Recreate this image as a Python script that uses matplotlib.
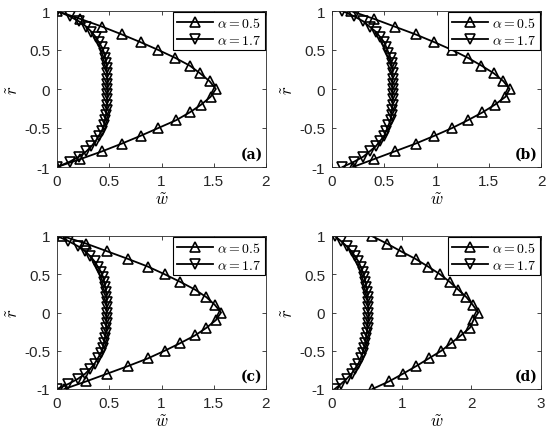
import numpy as np
import matplotlib
matplotlib.use("Agg")
import matplotlib.pyplot as plt

plt.rcParams['mathtext.fontset'] = 'cm'
plt.rcParams['font.family'] = ['Liberation Sans', 'DejaVu Sans']

# radial positions of the markers
r_a05 = [1.0, 0.9, 0.8, 0.7, 0.6, 0.5, 0.4, 0.3, 0.2, 0.1, 0.0,
         -0.1, -0.2, -0.3, -0.4, -0.5, -0.6, -0.7, -0.8, -0.9, -1.0]
r_a17 = [1.0, 0.933, 0.867, 0.8, 0.733, 0.667, 0.6, 0.533, 0.467, 0.4, 0.333,
         0.267, 0.2, 0.133, 0.067, 0.0, -0.067, -0.133, -0.2, -0.267, -0.333,
         -0.4, -0.467, -0.533, -0.6, -0.667, -0.733, -0.8, -0.867, -0.933, -1.0]

# (a)
wa_05 = [0.0, 0.22, 0.43, 0.62, 0.80, 0.97, 1.13, 1.27, 1.37, 1.46, 1.52,
         1.47, 1.38, 1.27, 1.14, 0.97, 0.80, 0.62, 0.43, 0.22, 0.0]
wa_17 = [0.0, 0.12, 0.21, 0.28, 0.33, 0.37, 0.40, 0.43, 0.45, 0.46, 0.47,
         0.475, 0.48, 0.48, 0.48, 0.48, 0.48, 0.48, 0.48, 0.475, 0.47,
         0.46, 0.45, 0.43, 0.40, 0.37, 0.33, 0.28, 0.21, 0.12, 0.0]
# (b)
wb_05 = [0.18, 0.40, 0.60, 0.80, 0.98, 1.15, 1.30, 1.43, 1.55, 1.64, 1.70,
         1.66, 1.56, 1.44, 1.30, 1.15, 0.98, 0.80, 0.60, 0.40, 0.20]
wb_17 = [0.10, 0.21, 0.30, 0.36, 0.42, 0.46, 0.50, 0.52, 0.54, 0.56, 0.57,
         0.575, 0.58, 0.58, 0.58, 0.58, 0.58, 0.58, 0.58, 0.575, 0.57,
         0.56, 0.54, 0.52, 0.50, 0.46, 0.42, 0.36, 0.30, 0.21, 0.10]
# (c)
wc_05 = [0.05, 0.28, 0.48, 0.68, 0.87, 1.03, 1.18, 1.32, 1.43, 1.51, 1.57,
         1.52, 1.43, 1.32, 1.18, 1.03, 0.87, 0.68, 0.48, 0.28, 0.07]
wc_17 = [0.0, 0.11, 0.20, 0.27, 0.32, 0.36, 0.39, 0.42, 0.44, 0.45, 0.46,
         0.47, 0.47, 0.475, 0.475, 0.475, 0.475, 0.475, 0.47, 0.47, 0.46,
         0.45, 0.44, 0.42, 0.39, 0.36, 0.32, 0.27, 0.20, 0.11, 0.0]
# (d)
wd_05 = [0.57, 0.79, 0.99, 1.20, 1.38, 1.55, 1.69, 1.81, 1.93, 2.02, 2.10,
         2.03, 1.98, 1.85, 1.71, 1.57, 1.39, 1.21, 1.02, 0.82, 0.58]
wd_17 = [0.04, 0.13, 0.21, 0.28, 0.33, 0.38, 0.41, 0.44, 0.46, 0.48, 0.49,
         0.50, 0.51, 0.515, 0.52, 0.52, 0.52, 0.515, 0.51, 0.50, 0.49,
         0.48, 0.46, 0.44, 0.41, 0.38, 0.33, 0.28, 0.21, 0.13, 0.04]

panels = ['(a)', '(b)', '(c)', '(d)']
w05 = [wa_05, wb_05, wc_05, wd_05]
w17 = [wa_17, wb_17, wc_17, wd_17]
xmax = [2, 2, 2, 3]
xticks = [[0, 0.5, 1, 1.5, 2], [0, 0.5, 1, 1.5, 2], [0, 0.5, 1, 1.5, 2], [0, 1, 2, 3]]
xticklabels = [['0', '0.5', '1', '1.5', '2']] * 3 + [['0', '1', '2', '3']]

# axes boxes in pixels: left, top, right, bottom
boxes = [(57, 12, 266, 168), (332, 12, 541, 168),
         (57, 237, 266, 390), (332, 237, 541, 390)]

W, H = 550, 435
fig = plt.figure(figsize=(W / 100, H / 100), dpi=100)
gray = '#262626'

for i in range(4):
    l, t, rr, b = boxes[i]
    ax = fig.add_axes([l / W, 1 - b / H, (rr - l) / W, (b - t) / H])
    ax.plot(w05[i], r_a05, color='k', lw=1.3, marker='^', ms=7,
            mfc='none', mec='k', mew=1.2, label=r'$\alpha = 0.5$')
    ax.plot(w17[i], r_a17, color='k', lw=1.3, marker='v', ms=7,
            mfc='none', mec='k', mew=1.2, label=r'$\alpha = 1.7$')
    ax.set_xlim(0, xmax[i])
    ax.set_ylim(-1, 1)
    ax.set_xticks(xticks[i])
    ax.set_xticklabels(xticklabels[i])
    ax.set_yticks([-1, -0.5, 0, 0.5, 1])
    ax.set_yticklabels(['-1', '-0.5', '0', '0.5', '1'])
    ax.tick_params(direction='in', top=True, right=True, length=3,
                   width=0.6, labelsize=11, colors=gray, pad=5)
    for s in ax.spines.values():
        s.set_color(gray)
        s.set_linewidth(0.6)
    ax.set_xlabel(r'$\tilde{w}$', fontsize=12, labelpad=2)
    ax.set_ylabel(r'$\tilde{r}$', fontsize=12, labelpad=2)
    ax.text(0.985, 0.04, panels[i], transform=ax.transAxes, ha='right',
            va='bottom', fontsize=10, fontweight='bold', family='DejaVu Serif')
    leg = ax.legend(loc='upper right', fontsize=10, handlelength=2.6,
                    borderaxespad=0.1, borderpad=0.25, labelspacing=0.2,
                    handletextpad=0.3, fancybox=False, framealpha=1)
    leg.get_frame().set_edgecolor('k')
    leg.get_frame().set_linewidth(0.8)

fig.savefig('out.png', dpi=100)
